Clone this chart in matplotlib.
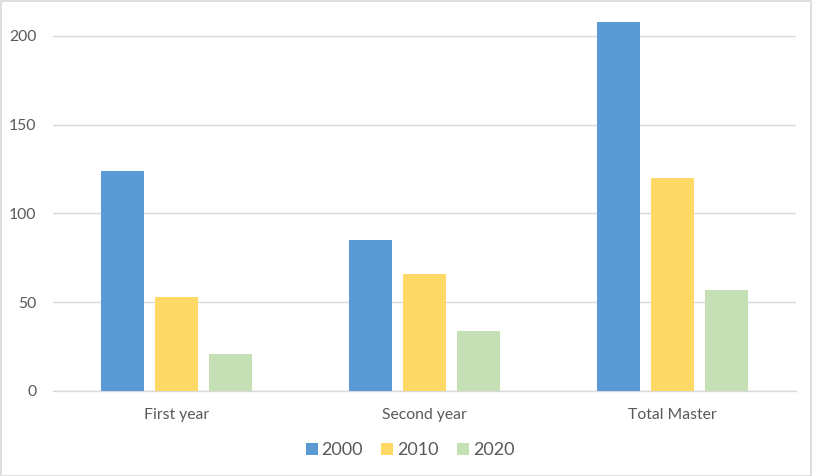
import matplotlib
matplotlib.use("Agg")
import matplotlib.pyplot as plt
import numpy as np

categories = ["First year", "Second year", "Total Master"]
series_names = ["2000", "2010", "2020"]
values_2000 = [124, 85, 208]
values_2010 = [53, 66, 120]
values_2020 = [21, 34, 57]
yticks = [0, 50, 100, 150, 200]

colors = ["#5B9BD5", "#FFD966", "#C5E0B4"]
plt.rcParams['font.family'] = ['Lato', 'DejaVu Sans']

fig = plt.figure(figsize=(8.13, 4.76), dpi=100)
fig.patch.set_facecolor("white")
W, H = 813, 476
ax = fig.add_axes([53 / W, 1 - 391 / H, (796 - 53) / W, (391 - 14.5) / H])

x = np.arange(len(categories))
width = 0.1736
step = 0.218
for i, (vals, name) in enumerate(zip([values_2000, values_2010, values_2020], series_names)):
    ax.bar(x + (i - 1) * step, vals, width, color=colors[i], label=name, zorder=3)

ax.set_xlim(-0.5, len(categories) - 0.5)
ax.set_ylim(0, 212)
ax.set_yticks(yticks)
ax.set_xticks(x)
ax.set_xticklabels(categories)
ax.grid(axis="y", color="#D9D9D9", linewidth=1.0, zorder=0)
for s in ["left", "right", "top"]:
    ax.spines[s].set_visible(False)
ax.spines["bottom"].set_color("#D9D9D9")
ax.spines["bottom"].set_linewidth(1.0)
ax.tick_params(axis="both", length=0, colors="#595959", labelsize=11.3)
ax.tick_params(axis="y", pad=12)
ax.tick_params(axis="x", pad=12)

handles, labels = ax.get_legend_handles_labels()
leg = fig.legend(handles, labels, loc="center", bbox_to_anchor=(410 / W, 1 - 450 / H),
                 ncol=3, frameon=False, fontsize=13, handlelength=0.67, handleheight=0.67,
                 handletextpad=0.22, columnspacing=1.0, labelcolor="#595959")

# outer light border
fig.add_artist(plt.Rectangle((0.001, 0.001), 0.997, 0.997, transform=fig.transFigure,
                             fill=False, edgecolor="#D9D9D9", linewidth=1.2))

fig.savefig("out.png", dpi=100)
